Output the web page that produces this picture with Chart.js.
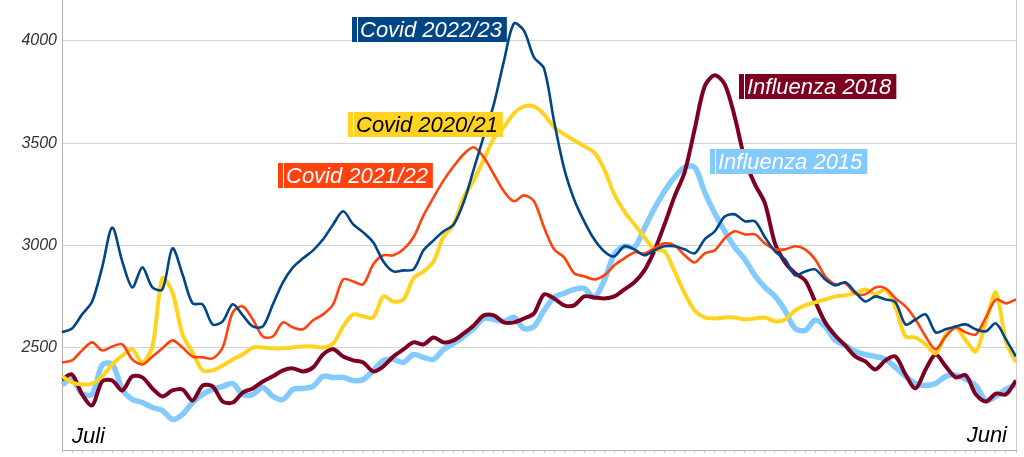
<!DOCTYPE html>
<html>
<head>
<meta charset="utf-8">
<script src="https://cdn.jsdelivr.net/npm/chart.js@4.4.1/dist/chart.umd.min.js"></script>
<style>
  html, body { margin: 0; padding: 0; background: #fff; }
  #wrap { width: 1024px; height: 457px; }
</style>
</head>
<body>
<div id="wrap"><canvas id="chart"></canvas></div>
<script>
// values, roughly every 3.8 days from July to June
const covid2223 = [2575, 2594, 2663, 2726, 2893, 3088, 2922, 2795, 2893, 2795, 2785, 2986, 2859, 2717, 2712, 2614,
  2629, 2712, 2658, 2604, 2604, 2712, 2820, 2893, 2937, 2976, 3030, 3103, 3167, 3103, 3064, 3015,
  2922, 2873, 2878, 2883, 2976, 3025, 3069, 3103, 3211, 3372, 3534, 3690, 3900, 4085, 4050, 3920,
  3866, 3607, 3377, 3225, 3118, 3030, 2971, 2947, 2996, 2981, 2952, 2976, 2996, 2996, 2981, 2961,
  3030, 3069, 3142, 3152, 3118, 3118, 3040, 2971, 2932, 2854, 2873, 2883, 2834, 2805, 2820, 2771,
  2726, 2751, 2736, 2722, 2614, 2638, 2663, 2575, 2590, 2604, 2614, 2590, 2580, 2619, 2541, 2457];
const covid2122 = [2428, 2438, 2487, 2526, 2487, 2506, 2516, 2443, 2418, 2457, 2497, 2536, 2501, 2457, 2453, 2448,
  2501, 2673, 2702, 2638, 2555, 2555, 2624, 2599, 2590, 2634, 2663, 2712, 2834, 2824, 2810, 2908,
  2952, 2952, 2981, 3040, 3147, 3235, 3318, 3387, 3446, 3480, 3431, 3348, 3265, 3216, 3245, 3216,
  3089, 2981, 2942, 2864, 2849, 2834, 2854, 2903, 2937, 2966, 2961, 2986, 3010, 3000, 2952, 2917,
  2961, 2976, 3035, 3069, 3054, 3054, 3010, 2981, 2981, 2996, 2981, 2932, 2849, 2810, 2815, 2766,
  2761, 2795, 2790, 2741, 2702, 2638, 2555, 2492, 2555, 2599, 2575, 2565, 2648, 2736, 2717, 2736];
const covid2021 = [2360, 2330, 2320, 2325, 2360, 2418, 2462, 2492, 2428, 2506, 2840, 2770, 2565, 2477, 2389, 2389,
  2413, 2443, 2467, 2501, 2501, 2497, 2497, 2501, 2506, 2506, 2501, 2521, 2604, 2663, 2653, 2648,
  2751, 2726, 2736, 2839, 2873, 2922, 3044, 3103, 3235, 3318, 3419, 3524, 3578, 3646, 3680, 3680,
  3641, 3578, 3544, 3514, 3485, 3455, 3372, 3250, 3167, 3103, 3040, 2981, 2971, 2873, 2766, 2682,
  2648, 2643, 2648, 2648, 2638, 2643, 2648, 2629, 2638, 2682, 2707, 2722, 2736, 2751, 2756, 2766,
  2785, 2761, 2785, 2697, 2555, 2550, 2516, 2472, 2565, 2599, 2536, 2482, 2629, 2771, 2531, 2428];
const flu2018 = [2345, 2369, 2272, 2218, 2335, 2340, 2291, 2360, 2355, 2301, 2262, 2291, 2296, 2242, 2315, 2311,
  2237, 2232, 2281, 2301, 2335, 2360, 2389, 2399, 2384, 2404, 2467, 2492, 2457, 2438, 2428, 2384,
  2409, 2457, 2492, 2526, 2516, 2550, 2526, 2536, 2570, 2609, 2658, 2658, 2624, 2624, 2643, 2668,
  2761, 2741, 2707, 2707, 2751, 2746, 2741, 2751, 2785, 2820, 2878, 2976, 3103, 3240, 3358, 3568,
  3778, 3832, 3788, 3627, 3421, 3299, 3206, 3010, 2917, 2864, 2829, 2726, 2624, 2560, 2511, 2457,
  2433, 2394, 2438, 2457, 2369, 2301, 2394, 2467, 2409, 2355, 2365, 2272, 2237, 2276, 2272, 2340];
const flu2015 = [2320, 2345, 2276, 2272, 2415, 2420, 2296, 2247, 2232, 2208, 2193, 2149, 2174, 2232, 2272, 2296,
  2311, 2325, 2272, 2272, 2306, 2262, 2247, 2296, 2301, 2311, 2360, 2355, 2355, 2340, 2345, 2389,
  2438, 2443, 2428, 2467, 2453, 2443, 2492, 2521, 2555, 2594, 2643, 2638, 2629, 2648, 2594, 2604,
  2682, 2746, 2766, 2785, 2790, 2746, 2829, 2956, 2996, 2991, 3084, 3181, 3265, 3333, 3382, 3382,
  3260, 3157, 3069, 2991, 2932, 2854, 2795, 2751, 2682, 2594, 2585, 2634, 2604, 2536, 2511, 2482,
  2467, 2457, 2443, 2404, 2360, 2325, 2315, 2325, 2360, 2365, 2345, 2315, 2242, 2262, 2296, 2320];

const seriesNames = ['Covid 2022/23', 'Covid 2021/22', 'Covid 2020/21', 'Influenza 2018', 'Influenza 2015'];
const monthLabels = ['Juli', 'Juni'];
const yTicks = [2500, 3000, 3500, 4000];
const days = covid2223.map((_, i) => i);

const FONT = '"Liberation Sans", Arial, sans-serif';

// name tags next to the curves, anchored in data units (index, value)
const tags = [
    { name: seriesNames[0], at: [28.9, 4117], bg: '#004586', fg: '#ffffff' },
    { name: seriesNames[2], at: [28.5, 3652], bg: '#ffd320', fg: '#000000' },
    { name: seriesNames[1], at: [21.5, 3403], bg: '#ff420e', fg: '#ffffff' },
    { name: seriesNames[3], at: [67.4, 3838], bg: '#7e0021', fg: '#ffffff' },
    { name: seriesNames[4], at: [64.5, 3472], bg: '#83caff', fg: '#ffffff' },
];

const tagPlugin = {
    id: 'tags',
    afterDatasetsDraw(chart) {
        const { ctx, chartArea } = chart;
        const x = chart.scales.x;
        const y = chart.scales.y;
        ctx.save();

        // right frame line
        ctx.strokeStyle = '#d0d0d0';
        ctx.lineWidth = 1;
        ctx.beginPath();
        ctx.moveTo(chartArea.right + 0.5, chartArea.top);
        ctx.lineTo(chartArea.right + 0.5, chartArea.bottom);
        ctx.stroke();

        ctx.font = 'italic 22px ' + FONT;
        ctx.textBaseline = 'alphabetic';
        tags.forEach(t => {
            const left = Math.round(x.getPixelForValue(t.at[0]));
            const top = Math.round(y.getPixelForValue(t.at[1]));
            const w = ctx.measureText(t.name).width + 13;
            ctx.fillStyle = t.bg;
            ctx.fillRect(left, top, w, 25);
            ctx.fillStyle = '#ffffff';
            ctx.fillRect(left + 5, top, 1, 25);
            ctx.fillStyle = t.fg;
            ctx.textAlign = 'left';
            ctx.fillText(t.name, left + 8, top + 20);
        });

        ctx.fillStyle = '#000000';
        ctx.textAlign = 'left';
        ctx.fillText(monthLabels[0], x.getPixelForValue(0) + 10, chartArea.bottom - 7);
        ctx.textAlign = 'right';
        ctx.fillText(monthLabels[1], x.getPixelForValue(days.length - 1) - 9, chartArea.bottom - 8);
        ctx.restore();
    }
};

const line = (label, data, color, width) => ({
    label: label,
    data: data,
    borderColor: color,
    backgroundColor: color,
    borderWidth: width,
    pointRadius: 0,
    tension: 0.3,
    fill: false,
});

new Chart(document.getElementById('chart').getContext('2d'), {
    type: 'line',
    data: {
        labels: days,
        datasets: [
            line(seriesNames[0], covid2223, '#004586', 2.6),
            line(seriesNames[1], covid2122, '#ff420e', 2.6),
            line(seriesNames[2], covid2021, '#ffd320', 4),
            line(seriesNames[3], flu2018, '#7e0021', 4),
            line(seriesNames[4], flu2015, '#83caff', 5.5),
        ],
    },
    options: {
        responsive: true,
        maintainAspectRatio: false,
        animation: false,
        layout: { padding: { top: 0, right: 8, bottom: 0, left: 0 } },
        plugins: {
            legend: { display: false },
            tooltip: { enabled: false },
        },
        scales: {
            x: {
                offset: false,
                afterFit: scale => {
                    scale.height = 7;
                    scale.paddingLeft = 0;
                    scale.paddingRight = 0;
                },
                grid: {
                    drawOnChartArea: false,
                    drawTicks: true,
                    tickLength: 3,
                    color: '#cccccc',
                },
                border: { display: true, color: '#b3b3b3' },
                ticks: { display: false },
            },
            y: {
                min: 2000,
                max: 4200,
                afterBuildTicks: scale => {
                    scale.ticks = yTicks.map(v => ({ value: v }));
                },
                afterFit: scale => {
                    scale.width = 62;
                    scale.paddingTop = 0;
                    scale.paddingBottom = 0;
                },
                grid: {
                    drawTicks: false,
                    color: '#d3d3d3',
                },
                border: { display: true, color: '#b3b3b3' },
                ticks: {
                    padding: 5,
                    color: '#333333',
                    font: { family: FONT, size: 16, style: 'italic' },
                    callback: v => String(v),
                },
            },
        },
    },
    plugins: [tagPlugin],
});
</script>
</body>
</html>
